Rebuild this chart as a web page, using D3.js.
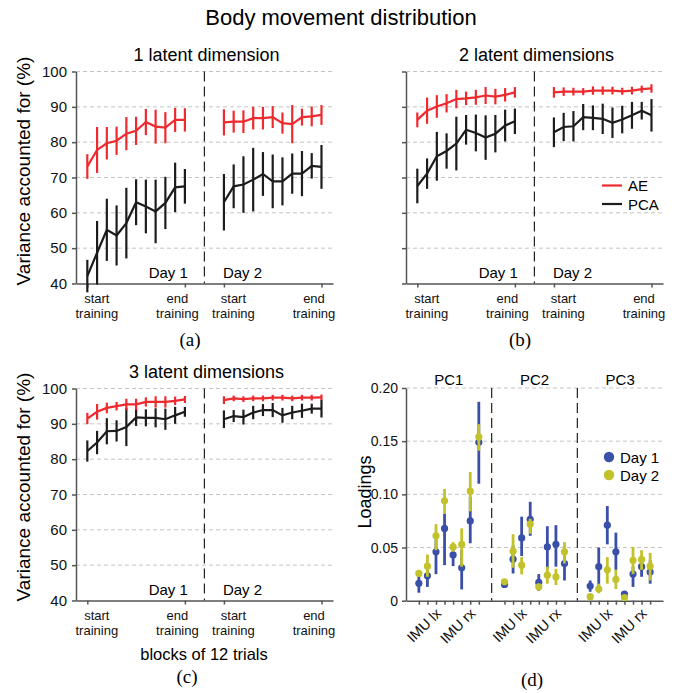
<!DOCTYPE html>
<html lang="en">
<head>
<meta charset="UTF-8">
<title>Body movement distribution</title>
<script src="https://cdnjs.cloudflare.com/ajax/libs/d3/7.8.5/d3.min.js"></script>
<style>
  body { margin: 0; background: #fff; }
  svg { font-family: "Liberation Sans", Arial, sans-serif; }
  .grid line { stroke: #c4c4c4; stroke-width: 1; stroke-dasharray: 4,3; }
  .axis path, .axis line { stroke: #555; stroke-width: 1.5; }
  .axis text { fill: #111; }
  .divider { stroke: #222; stroke-width: 1.2; stroke-dasharray: 10,5; }
</style>
</head>
<body>
<svg width="683" height="693"></svg>
<script>
// block positions: day 1 = 0..10, day 2 = 14..24 (gap of 3 slots between days)
var blockPos = [0,1,2,3,4,5,6,7,8,9,10, 14,15,16,17,18,19,20,21,22,23,24];
var xTickPos = [0, 10, 14, 24];
var xTickText = [["start","training"],["end","training"],["start","training"],["end","training"]];
var yTicks = [40, 50, 60, 70, 80, 90, 100];

// variance accounted for (%) -- mean and half error bar, day 1 then day 2
var dim1AE     = [73.1,77.8,79.7,80.4,82.4,83.2,85.7,84.4,84.1,86.3,86.3, 85.6,85.8,85.8,86.8,86.8,87.1,85.4,85.1,87.1,87.3,87.7];
var dim1AEerr  = [3.5,6.5,4.6,4.0,4.7,4.0,3.7,4.8,4.4,3.4,3.3, 3.7,3.1,3.2,3.2,3.2,3.1,3.0,5.4,2.4,2.8,2.8];
var dim1PCA    = [42.1,48.7,55.2,53.6,57.1,63.0,61.8,60.4,62.8,67.2,67.5, 63.0,67.5,68.0,69.4,71.0,68.9,68.9,71.1,71.1,73.3,73.0];
var dim1PCAerr = [4.6,9.0,8.8,8.5,10.0,6.5,7.6,9.0,7.4,7.0,4.9, 8.0,6.2,8.0,9.0,6.2,7.6,6.8,5.7,6.4,3.6,6.2];

var dim2AE     = [86.3,88.9,90.1,91.0,92.2,92.4,92.7,93.2,92.9,93.4,94.1, 94.1,94.3,94.3,94.3,94.6,94.6,94.6,94.4,94.6,95.0,95.2];
var dim2AEerr  = [2.1,3.7,3.2,2.6,2.6,1.9,2.1,2.4,2.2,1.9,1.5, 1.5,1.2,1.1,1.0,1.2,1.2,1.1,1.0,1.1,1.0,1.2];
var dim2PCA    = [67.6,71.1,76.0,77.5,79.6,83.5,82.6,81.3,82.4,84.7,85.9, 82.8,84.3,84.5,87.1,86.9,86.6,85.5,86.4,87.6,88.9,87.6];
var dim2PCAerr = [4.9,4.3,6.9,5.0,7.6,4.2,5.2,6.3,5.3,4.5,3.6, 4.2,4.0,4.3,3.7,3.5,4.3,4.3,3.9,3.8,2.5,4.6];

var dim3AE     = [91.5,93.4,94.5,95.0,95.5,95.5,96.2,96.2,96.2,96.5,96.9, 96.7,97.2,97.0,97.2,97.2,97.4,97.4,97.2,97.4,97.4,97.5];
var dim3AEerr  = [1.6,2.2,1.5,1.2,1.6,1.6,1.3,1.6,1.6,1.2,1.0, 1.1,0.8,0.8,0.8,0.8,0.8,0.8,0.8,0.8,0.8,0.8];
var dim3PCA    = [82.3,84.7,87.9,88.0,89.1,91.8,91.7,91.7,91.3,92.4,93.4, 91.3,92.2,91.9,93.2,93.9,93.9,92.4,93.2,93.7,94.3,94.3];
var dim3PCAerr = [3.0,3.3,3.7,3.0,5.4,2.4,2.4,2.7,3.0,2.4,1.4, 2.5,1.7,2.1,1.9,1.7,2.0,2.1,1.9,2.0,1.4,2.5];

// loadings: PC1, PC2, PC3, 8 features each
var pcNames = ["PC1", "PC2", "PC3"];
var featLabels = ["", "", "IMU lx", "", "", "", "IMU rx", ""];
var day1Load = [0.0163,0.0234,0.046,0.068,0.043,0.031,0.075,0.149,
                0.0153,0.039,0.059,0.0766,0.0172,0.0506,0.053,0.035,
                0.0138,0.032,0.071,0.046,0.0063,0.025,0.032,0.027];
var day1Lo   = [0.0075,0.013,0.025,0.0334,0.0325,0.0106,0.054,0.11,
                0.013,0.0256,0.042,0.061,0.0094,0.030,0.032,0.019,
                0.0084,0.0116,0.053,0.029,0.0045,0.013,0.0225,0.016];
var day1Hi   = [0.024,0.030,0.058,0.082,0.0506,0.0475,0.0975,0.187,
                0.0175,0.052,0.079,0.093,0.025,0.070,0.071,0.045,
                0.019,0.05,0.089,0.064,0.008,0.032,0.040,0.038];
var day2Load = [0.0256,0.0325,0.061,0.094,0.0506,0.053,0.103,0.154,
                0.0178,0.0466,0.0334,0.072,0.013,0.024,0.0225,0.046,
                0.0038,0.011,0.029,0.020,0.003,0.038,0.0388,0.0325];
var day2Lo   = [0.023,0.0225,0.0475,0.082,0.046,0.032,0.084,0.141,
                0.015,0.031,0.0247,0.063,0.010,0.016,0.0147,0.035,
                0.002,0.007,0.016,0.011,0.0015,0.025,0.029,0.019];
var day2Hi   = [0.028,0.0434,0.072,0.105,0.055,0.068,0.121,0.166,
                0.0205,0.0625,0.041,0.077,0.016,0.032,0.030,0.055,
                0.0055,0.016,0.041,0.029,0.0045,0.0506,0.0475,0.045];

var red = "#ee2a2e", black = "#1c1c1c", blue = "#3a50a8", yellow = "#c2c22c";
var svg = d3.select("svg");
var W = 257, H = 212;

svg.append("text").attr("x", 341).attr("y", 25).attr("text-anchor", "middle")
  .style("font-size", "22px").text("Body movement distribution");

function perfPanel(o) {
  var g = svg.append("g").attr("transform", "translate(" + o.x + "," + o.y + ")");
  var x = d3.scaleLinear().domain([-1.16, 25.18]).range([0, W]);
  var y = d3.scaleLinear().domain([40, 100]).range([H, 0]);

  g.append("g").attr("class", "grid").selectAll("line").data(yTicks.slice(1)).join("line")
    .attr("x1", 0).attr("x2", W).attr("y1", d => y(d)).attr("y2", d => y(d));
  g.append("line").attr("class", "divider")
    .attr("x1", x(12)).attr("x2", x(12)).attr("y1", 0).attr("y2", H);

  var ya = d3.axisLeft(y).tickValues(yTicks).tickSize(4).tickSizeOuter(0).tickPadding(5);
  if (!o.yLabels) ya.tickFormat("");
  g.append("g").attr("class", "axis").call(ya).selectAll("text").style("font-size", "15px");

  var gx = g.append("g").attr("class", "axis").attr("transform", "translate(0," + H + ")")
    .call(d3.axisBottom(x).tickValues(xTickPos).tickSize(4).tickSizeOuter(0).tickFormat(""));
  gx.selectAll(".tick").each(function (d, i) {
    // start labels sit a bit right of their tick, end labels a bit left
    var dx = i % 2 === 0 ? 9 : -8;
    var t = d3.select(this).append("text").attr("text-anchor", "middle").style("font-size", "13px");
    t.append("tspan").attr("x", dx).attr("y", 19).text(xTickText[i][0]);
    t.append("tspan").attr("x", dx).attr("y", 34).text(xTickText[i][1]);
  });

  g.append("text").attr("x", x(10) + 3).attr("y", H - 6).attr("text-anchor", "end")
    .style("font-size", "15px").text("Day 1");
  g.append("text").attr("x", x(14) - 1).attr("y", H - 6)
    .style("font-size", "15px").text("Day 2");

  g.append("text").attr("x", W / 2 + 2).attr("y", -11).attr("text-anchor", "middle")
    .style("font-size", "18px").text(o.title);

  var line = d3.line().x(d => x(d.p)).y(d => y(d.m));
  [[o.pca, o.pcaErr, black], [o.ae, o.aeErr, red]].forEach(function (s) {
    var pts = blockPos.map((p, i) => ({ p: p, m: s[0][i], e: s[1][i] }));
    [pts.slice(0, 11), pts.slice(11)].forEach(function (seg) {
      g.append("path").datum(seg).attr("d", line)
        .attr("fill", "none").attr("stroke", s[2]).attr("stroke-width", 2.2);
    });
    g.append("g").selectAll("line").data(pts).join("line")
      .attr("x1", d => x(d.p)).attr("x2", d => x(d.p))
      .attr("y1", d => y(d.m - d.e)).attr("y2", d => y(d.m + d.e))
      .attr("stroke", s[2]).attr("stroke-width", 2.2);
  });

  if (o.legend) {
    var lg = g.append("g").attr("transform", "translate(196,114)");
    [["AE", red], ["PCA", black]].forEach(function (l, i) {
      lg.append("line").attr("x1", 0).attr("x2", 20).attr("y1", i * 18.5).attr("y2", i * 18.5)
        .attr("stroke", l[1]).attr("stroke-width", 2.2);
      lg.append("text").attr("x", 26).attr("y", i * 18.5 + 5.5).style("font-size", "15px").text(l[0]);
    });
  }
}

perfPanel({ x: 76, y: 71.5, title: "1 latent dimension", ae: dim1AE, aeErr: dim1AEerr, pca: dim1PCA, pcaErr: dim1PCAerr, yLabels: true });
perfPanel({ x: 406, y: 71.5, title: "2 latent dimensions", ae: dim2AE, aeErr: dim2AEerr, pca: dim2PCA, pcaErr: dim2PCAerr, yLabels: false, legend: true });
perfPanel({ x: 76, y: 388.5, title: "3 latent dimensions", ae: dim3AE, aeErr: dim3AEerr, pca: dim3PCA, pcaErr: dim3PCAerr, yLabels: true });

// y labels and panel letters
[[30, 171], [30, 487]].forEach(function (p) {
  svg.append("text").attr("transform", "translate(" + p[0] + "," + p[1] + ") rotate(-90)")
    .attr("text-anchor", "middle").style("font-size", "19px").text("Variance accounted for (%)");
});
svg.append("text").attr("x", 204).attr("y", 660).attr("text-anchor", "middle")
  .style("font-size", "16.5px").text("blocks of 12 trials");
[["(a)", 190, 346], ["(b)", 520, 346], ["(c)", 187, 683], ["(d)", 532, 686]].forEach(function (l) {
  svg.append("text").attr("x", l[1]).attr("y", l[2]).attr("text-anchor", "middle")
    .style("font-family", "'Liberation Serif', 'Times New Roman', serif").style("font-size", "19px").text(l[0]);
});

// loadings panel
(function () {
  var g = svg.append("g").attr("transform", "translate(406,388)");
  var h = 212.7;
  var x = d3.scaleLinear().domain([0, 30]).range([0, W]);
  var y = d3.scaleLinear().domain([0, 0.2]).range([h, 0]);
  var lTicks = [0, 0.05, 0.1, 0.15, 0.2];

  g.append("g").attr("class", "grid").selectAll("line").data(lTicks.slice(1)).join("line")
    .attr("x1", 0).attr("x2", W).attr("y1", d => y(d)).attr("y2", d => y(d));
  g.selectAll(".divider").data([10, 20]).join("line").attr("class", "divider")
    .attr("x1", d => x(d)).attr("x2", d => x(d)).attr("y1", 0).attr("y2", h);

  g.append("g").attr("class", "axis")
    .call(d3.axisLeft(y).tickValues(lTicks).tickSize(4).tickSizeOuter(0).tickPadding(4)
      .tickFormat(d => d === 0 ? "0" : d3.format(".2f")(d)))
    .selectAll("text").style("font-size", "14px");

  var pos = [];
  pcNames.forEach((n, s) => featLabels.forEach((f, j) => pos.push({ p: s * 10 + 1.5 + j, lab: f })));

  var gx = g.append("g").attr("class", "axis").attr("transform", "translate(0," + h + ")")
    .call(d3.axisBottom(x).tickValues(pos.map(d => d.p)).tickSize(4).tickSizeOuter(0).tickFormat(""));
  gx.selectAll(".tick").each(function (d, i) {
    if (!pos[i].lab) return;
    d3.select(this).append("text").attr("text-anchor", "end")
      .attr("transform", "translate(2,10) rotate(-45)").attr("dy", "0.35em")
      .style("font-size", "14.5px").text(pos[i].lab);
  });

  g.selectAll(".pc").data(pcNames).join("text").attr("class", "pc")
    .attr("x", (d, i) => x(i * 10 + 5)).attr("y", -3).attr("text-anchor", "middle")
    .style("font-size", "15px").text(d => d);

  [[day1Load, day1Lo, day1Hi, blue], [day2Load, day2Lo, day2Hi, yellow]].forEach(function (s) {
    var pts = pos.map((d, i) => ({ p: d.p, m: s[0][i], lo: s[1][i], hi: s[2][i] }));
    var sg = g.append("g");
    sg.selectAll("line").data(pts).join("line")
      .attr("x1", d => x(d.p)).attr("x2", d => x(d.p))
      .attr("y1", d => y(d.lo)).attr("y2", d => y(d.hi))
      .attr("stroke", s[3]).attr("stroke-width", 2.8);
    sg.selectAll("circle").data(pts).join("circle")
      .attr("cx", d => x(d.p)).attr("cy", d => y(d.m)).attr("r", 3.6).attr("fill", s[3]);
  });

  var lg = g.append("g").attr("transform", "translate(203,69)");
  [["Day 1", blue], ["Day 2", yellow]].forEach(function (l, i) {
    lg.append("circle").attr("cx", 0).attr("cy", i * 18).attr("r", 5.2).attr("fill", l[1]);
    lg.append("text").attr("x", 11).attr("y", i * 18 + 5.5).style("font-size", "15px").text(l[0]);
  });

  svg.append("text").attr("transform", "translate(371,492) rotate(-90)")
    .attr("text-anchor", "middle").style("font-size", "18px").text("Loadings");
})();
</script>
</body>
</html>
